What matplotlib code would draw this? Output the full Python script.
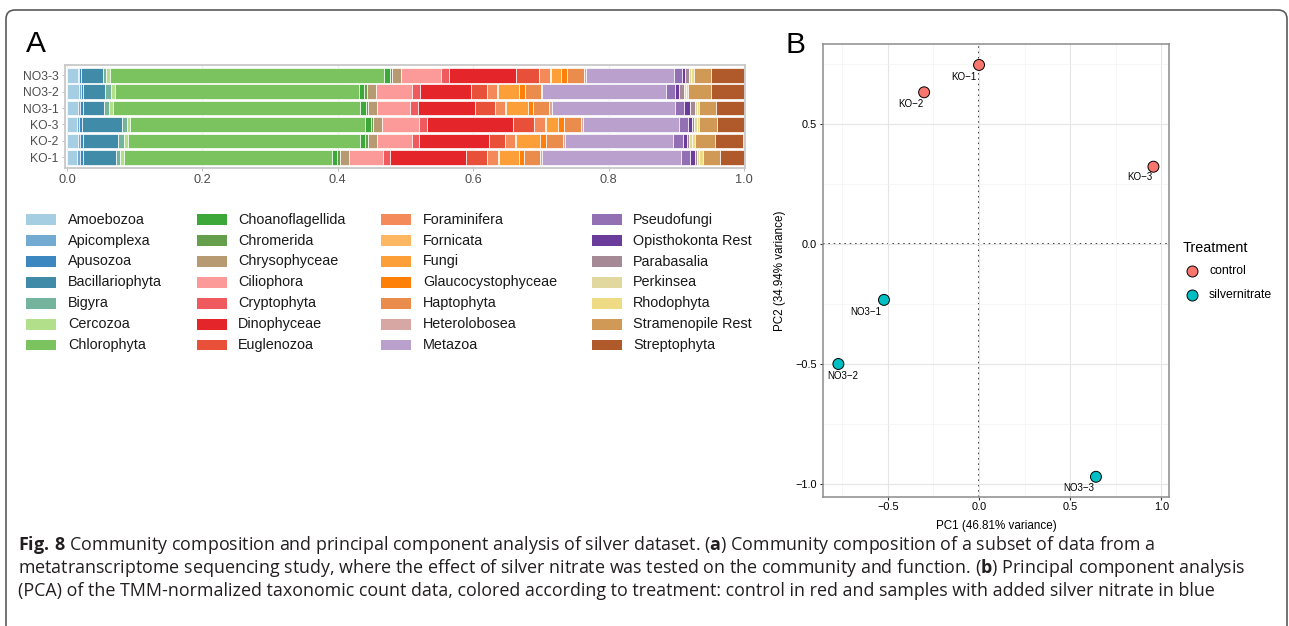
"""
plot.py
Silver dataset: community composition (A) and PCA of TMM-normalized counts (B).
"""
import numpy as np
import matplotlib
matplotlib.use("Agg")
import matplotlib.pyplot as plt
from matplotlib.patches import Rectangle, FancyBboxPatch
from matplotlib.lines import Line2D
from matplotlib.transforms import IdentityTransform

W, H = 1289, 626

TAXA = [
    "Amoebozoa", "Apicomplexa", "Apusozoa", "Bacillariophyta", "Bigyra",
    "Cercozoa", "Chlorophyta", "Choanoflagellida", "Chromerida", "Chrysophyceae",
    "Ciliophora", "Cryptophyta", "Dinophyceae", "Euglenozoa", "Foraminifera",
    "Fornicata", "Fungi", "Glaucocystophyceae", "Haptophyta", "Heterolobosea",
    "Metazoa", "Pseudofungi", "Opisthokonta Rest", "Parabasalia", "Perkinsea",
    "Rhodophyta", "Stramenopile Rest", "Streptophyta",
]
TAXA_COLORS = [
    "#a6cee3", "#72aad2", "#3d87c0", "#3f8ba8", "#74b49c",
    "#b2df8a", "#7bc35f", "#3da83a", "#659f4b", "#b89a72",
    "#fb9a99", "#ee5a5d", "#e4262b", "#e9503a", "#f48a5a",
    "#fdb763", "#fd9f38", "#fe8009", "#ea8c4b", "#d7a7a4",
    "#b9a0cd", "#9270b3", "#6a3d9a", "#a58a96", "#e0d89e",
    "#efdb84", "#d09955", "#b0592a",
]

# relative abundance per sample (same order as TAXA)
KO_1 = [0.0148, 0.0044, 0.0040, 0.0492, 0.0062, 0.0053, 0.3078, 0.0075, 0.0047, 0.0123,
        0.0505, 0.0111, 0.1120, 0.0301, 0.0164, 0.0015, 0.0295, 0.0084, 0.0236, 0.0030,
        0.2050, 0.0133, 0.0069, 0.0037, 0.0022, 0.0059, 0.0248, 0.0357]
KO_2 = [0.0162, 0.0030, 0.0037, 0.0529, 0.0084, 0.0055, 0.3436, 0.0074, 0.0040, 0.0133,
        0.0510, 0.0115, 0.1027, 0.0236, 0.0155, 0.0015, 0.0344, 0.0087, 0.0253, 0.0035,
        0.1595, 0.0142, 0.0059, 0.0040, 0.0034, 0.0055, 0.0288, 0.0421]
KO_3 = [0.0148, 0.0032, 0.0034, 0.0598, 0.0069, 0.0053, 0.3471, 0.0092, 0.0027, 0.0129,
        0.0543, 0.0124, 0.1264, 0.0310, 0.0173, 0.0015, 0.0177, 0.0078, 0.0254, 0.0025,
        0.1430, 0.0121, 0.0059, 0.0038, 0.0035, 0.0038, 0.0258, 0.0402]
NO3_1 = [0.0162, 0.0034, 0.0035, 0.0315, 0.0069, 0.0060, 0.3647, 0.0093, 0.0030, 0.0133,
         0.0487, 0.0115, 0.0845, 0.0302, 0.0148, 0.0015, 0.0315, 0.0077, 0.0241, 0.0035,
         0.1826, 0.0136, 0.0081, 0.0074, 0.0025, 0.0041, 0.0251, 0.0406]
NO3_2 = [0.0170, 0.0030, 0.0032, 0.0330, 0.0084, 0.0064, 0.3600, 0.0077, 0.0037, 0.0133,
         0.0540, 0.0114, 0.0762, 0.0225, 0.0155, 0.0015, 0.0303, 0.0089, 0.0236, 0.0027,
         0.1827, 0.0128, 0.0064, 0.0066, 0.0030, 0.0037, 0.0344, 0.0483]
NO3_3 = [0.0155, 0.0025, 0.0025, 0.0320, 0.0056, 0.0060, 0.4040, 0.0089, 0.0037, 0.0128,
         0.0590, 0.0123, 0.0985, 0.0344, 0.0162, 0.0015, 0.0150, 0.0080, 0.0250, 0.0025,
         0.1310, 0.0113, 0.0050, 0.0060, 0.0024, 0.0047, 0.0254, 0.0480]

SAMPLES = ["KO-1", "KO-2", "KO-3", "NO3-1", "NO3-2", "NO3-3"]
ABUNDANCE = [KO_1, KO_2, KO_3, NO3_1, NO3_2, NO3_3]

# PCA scores
PCA_LABELS = ["KO\u22121", "KO\u22122", "KO\u22123", "NO3\u22121", "NO3\u22122", "NO3\u22123"]
PC1 = [0.000, -0.301, 0.956, -0.521, -0.771, 0.641]
PC2 = [0.746, 0.632, 0.322, -0.233, -0.500, -0.970]
TREATMENT = ["control", "control", "control", "silvernitrate", "silvernitrate", "silvernitrate"]
TREAT_COLORS = {"control": "#F8766D", "silvernitrate": "#00BFC4"}
# label offsets in points (text placement only)
LABEL_OFFSETS = [(-10.8, -8.4), (-9.6, -8.4), (-9.6, -7.7), (-13.0, -8.4), (3.1, -8.6), (-12.2, -8.4)]

CAPTION = [
    r"$\mathbf{Fig.\,8}$ Community composition and principal component analysis of silver dataset. "
    r"($\mathbf{a}$) Community composition of a subset of data from a",
    r"metatranscriptome sequencing study, where the effect of silver nitrate was tested on the community "
    r"and function. ($\mathbf{b}$) Principal component analysis",
    "(PCA) of the TMM-normalized taxonomic count data, colored according to treatment: control in red "
    "and samples with added silver nitrate in blue",
]


def fx(px):
    return px / W


def fy(py):
    return 1 - py / H


plt.rcParams["font.family"] = ["Liberation Sans", "DejaVu Sans"]
plt.rcParams["mathtext.fontset"] = "custom"
plt.rcParams["mathtext.rm"] = "Open Sans"
plt.rcParams["mathtext.bf"] = "Open Sans:bold"

fig = plt.figure(figsize=(W / 100, H / 100), dpi=100)

# outer frame with rounded top corners
frame = FancyBboxPatch((6, -40), 1281, 656, boxstyle="round,pad=0,rounding_size=9",
                       transform=IdentityTransform(), facecolor="none",
                       edgecolor="#5a5a5a", linewidth=1.2, clip_on=False)
fig.add_artist(frame)

# --- Panel A: stacked bars ---
axA = fig.add_axes([fx(65), fy(168), fx(745) - fx(65), fy(65) - fy(168)])
ypos = np.arange(len(SAMPLES))
left = np.zeros(len(SAMPLES))
for j, (taxon, col) in enumerate(zip(TAXA, TAXA_COLORS)):
    vals = np.array([row[j] for row in ABUNDANCE])
    axA.barh(ypos, vals, left=left, height=0.9, color=col,
             edgecolor="white", linewidth=0.5, label=taxon, zorder=2)
    left += vals
axA.set_xlim(-0.003, 1.0015)
axA.set_ylim(-0.65, 5.62)
axA.set_yticks(ypos)
axA.set_yticklabels(SAMPLES, fontsize=8.7, color="#4d4d4d")
axA.set_xticks([0, 0.2, 0.4, 0.6, 0.8, 1.0])
axA.set_xticklabels(["0.0", "0.2", "0.4", "0.6", "0.8", "1.0"], fontsize=9.2, color="#4d4d4d")
axA.tick_params(axis="both", length=2.5, width=0.6, color="#b3b3b3", pad=2)
axA.grid(axis="x", color="#ebebeb", linewidth=0.8, zorder=0)
for sp in axA.spines.values():
    sp.set_color("#c8c8c8")
    sp.set_linewidth(1.3)

# legend for panel A, 4 columns x 7 rows
col_patch_x = [26, 197, 381, 592]
col_text_x = [68, 238, 423, 633]
for i, (taxon, col) in enumerate(zip(TAXA, TAXA_COLORS)):
    c, r = i // 7, i % 7
    yc = 219.7 + r * 20.9
    fig.add_artist(Rectangle((fx(col_patch_x[c]), fy(yc + 5.3)), fx(30), 10.6 / H,
                             transform=fig.transFigure, facecolor=col, edgecolor="none"))
    fig.text(fx(col_text_x[c]), fy(yc), taxon, fontsize=10.4, color="#1a1a1a",
             ha="left", va="center")

fig.text(fx(36), fy(44), "A", fontsize=21.5, ha="center", va="center")

# --- Panel B: PCA ---
axB = fig.add_axes([fx(822.7), fy(496.7), fx(1169.3) - fx(822.7), fy(44.3) - fy(496.7)])
axB.set_xlim(-0.857, 1.043)
axB.set_ylim(-1.053, 0.832)
axB.set_xticks([-0.5, 0.0, 0.5, 1.0])
axB.set_xticklabels(["\u22120.5", "0.0", "0.5", "1.0"], fontsize=7.9)
axB.set_yticks([-1.0, -0.5, 0.0, 0.5])
axB.set_yticklabels(["\u22121.0", "\u22120.5", "0.0", "0.5"], fontsize=7.9)
axB.set_xticks([-0.75, -0.25, 0.25, 0.75], minor=True)
axB.set_yticks([-0.75, -0.25, 0.25, 0.75], minor=True)
axB.tick_params(which="major", length=2.5, width=0.8, color="#333333", pad=1.5)
axB.tick_params(which="minor", length=0)
axB.grid(which="major", color="#e5e5e5", linewidth=0.8, zorder=0)
axB.grid(which="minor", color="#f3f3f3", linewidth=0.5, zorder=0)
for sp in axB.spines.values():
    sp.set_color("#8c8c8c")
    sp.set_linewidth(1.1)
axB.axhline(0, color="black", linestyle=(0, (1, 2.5)), linewidth=1.1, zorder=1)
axB.axvline(0, color="black", linestyle=(0, (1, 2.5)), linewidth=1.1, zorder=1)

axB.scatter(PC1, PC2, s=62, c=[TREAT_COLORS[t] for t in TREATMENT],
            edgecolors="black", linewidths=0.7, zorder=3)
for x, y, lab, off in zip(PC1, PC2, PCA_LABELS, LABEL_OFFSETS):
    axB.annotate(lab, xy=(x, y), xytext=off, textcoords="offset points",
                 ha="center", va="center", fontsize=7.0, color="black", zorder=4)

axB.set_xlabel("PC1 (46.81% variance)", fontsize=8.4)
axB.set_ylabel("PC2 (34.94% variance)", fontsize=8.4)
axB.xaxis.set_label_coords(0.5, -0.052)
axB.yaxis.set_label_coords(-0.106, 0.5)

fig.text(fx(795), fy(45), "B", fontsize=21.5, ha="center", va="center")

# legend for panel B
fig.text(fx(1182.7), fy(248), "Treatment", fontsize=10.4, ha="left", va="center")
for k, (name, col) in enumerate(TREAT_COLORS.items()):
    yk = 270.7 + k * 24.3
    fig.add_artist(Line2D([fx(1192.3)], [fy(yk)], transform=fig.transFigure, marker="o",
                          markersize=7.9, markerfacecolor=col, markeredgecolor="black",
                          markeredgewidth=0.7, linestyle="none"))
    fig.text(fx(1209), fy(yk), name, fontsize=8.8, ha="left", va="center")

# caption
for i, line in enumerate(CAPTION):
    fig.text(fx(18), fy(544.5 + i * 23.3), line, fontsize=12.9, family="Open Sans",
             color="#231f20", ha="left", va="center")

fig.savefig("out.png", dpi=100)
